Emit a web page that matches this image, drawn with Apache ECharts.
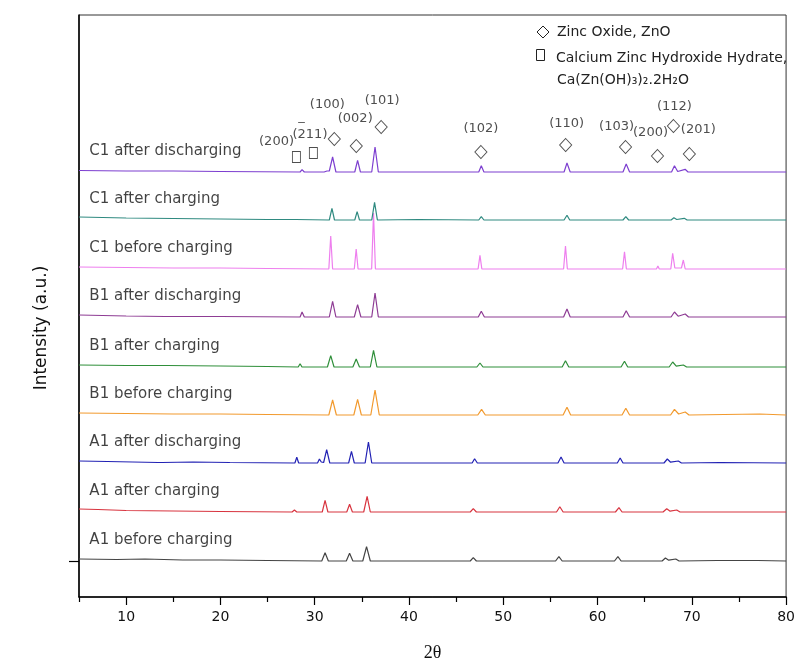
<!DOCTYPE html>
<html>
<head>
<meta charset="utf-8">
<script src="https://cdn.jsdelivr.net/npm/echarts@6/dist/echarts.min.js"></script>
<style>
  html, body { margin: 0; background: #fff; }
  #chart { width: 798px; height: 670px; }
</style>
</head>
<body>
<div id="chart"></div>
<script>
// trace names, bottom to top
const traceNames = [
  'A1 before charging', 'A1 after charging', 'A1 after discharging',
  'B1 before charging', 'B1 after charging', 'B1 after discharging',
  'C1 before charging', 'C1 after charging', 'C1 after discharging'
];
const traceColors = [
  '#444444', '#d8343f', '#2222b4',
  '#f29a2e', '#2f8f3a', '#8e3c94',
  '#ee7fee', '#2f8a80', '#7d3fd0'
];
// vertical stacking offset of each trace (a.u.)
const offsets = [0, 49, 98, 146, 194, 244, 292, 341, 389];

// [2theta, intensity above baseline]
const a1Before = [[5,2],[9,1.5],[12,2],[16,1],[20,1],[25,0.5],[30.75,0],[31.1,8.3],[31.45,0],[33.35,0],[33.7,7.7],[34.05,0],[35.1,0],[35.5,14.3],[35.9,0],[46.5,0],[46.82,3.3],[47.15,0],[55.55,0],[55.9,4.3],[56.25,0],[61.8,0],[62.16,4.3],[62.5,0],[66.85,0],[67.2,3],[67.55,0.8],[68.3,2],[68.65,0],[72.7,0.5],[77,0.5],[80,0]];
const a1Charge = [[5,3],[7,2.5],[10,1.5],[15,1],[20,0.5],[27.6,0],[27.85,2],[28.1,0],[30.1,0],[30.3,2],[30.5,0],[30.8,0],[31.1,11.7],[31.4,0],[33.4,0],[33.7,7.7],[34.0,0],[35.2,0],[35.56,15.7],[35.9,0],[46.5,0],[46.82,3.3],[47.15,0],[55.65,0],[56.0,5.3],[56.35,0],[61.9,0],[62.27,4.3],[62.6,0],[66.95,0],[67.34,3.3],[67.7,0.8],[68.4,2],[68.75,0],[80,0]];
const a1Discharge = [[5,2],[8,1.5],[13.4,0.5],[13.6,2],[13.8,0.5],[17.1,1],[21,0.5],[27.9,0],[28.1,5.7],[28.3,0],[30.3,0],[30.5,4],[30.7,1],[30.95,0.5],[31.27,13.3],[31.6,0],[33.6,0],[33.9,11.7],[34.2,0],[35.35,0],[35.7,21],[36.05,0],[46.7,0],[46.96,4.3],[47.25,0],[55.8,0],[56.13,6],[56.45,0],[62.1,0],[62.4,5],[62.7,0],[67.05,0],[67.4,4],[67.75,0.8],[68.57,2],[68.9,0],[73,0.5],[80,0]];
const b1Before = [[5,2],[10,1.5],[15,1],[20,1],[25,0.5],[31.5,0],[31.9,15],[32.3,0],[34.15,0],[34.55,15.7],[34.95,0],[35.95,0],[36.4,25],[36.85,0],[47.3,0],[47.7,5.7],[48.1,0],[56.35,0],[56.76,7.7],[57.15,0],[62.6,0],[63.0,6.7],[63.4,0],[67.75,0],[68.16,5.7],[68.6,1],[69.3,3],[69.7,0],[77.2,1],[80,0]];
const b1Charge = [[5,2],[10,1.5],[14.3,1.5],[20,1],[25,0.5],[28.25,0],[28.45,3.3],[28.65,0],[31.35,0],[31.7,11.3],[32.05,0],[34.05,0],[34.4,8],[34.75,0],[35.9,0],[36.24,16.7],[36.6,0],[47.2,0],[47.53,4],[47.85,0],[56.25,0],[56.6,6.3],[56.95,0],[62.5,0],[62.86,5.7],[63.2,0],[66.1,0],[66.3,1.5],[66.5,0],[67.6,0],[67.97,5],[68.35,0.8],[69.1,2],[69.45,0],[80,0]];
const b1Discharge = [[5,2],[10,1],[14.1,0.5],[14.3,1.5],[14.5,0.5],[20,0.5],[28.45,0],[28.66,5],[28.9,0],[31.55,0],[31.9,15.7],[32.25,0],[34.2,0],[34.55,12.3],[34.9,0],[36.05,0],[36.4,24],[36.75,0],[47.35,0],[47.67,5.7],[48.0,0],[56.4,0],[56.76,8],[57.1,0],[62.7,0],[63.04,6.3],[63.4,0],[66.3,0],[66.5,1.5],[66.7,0],[67.8,0],[68.16,5],[68.55,0.8],[69.3,3],[69.65,0],[80,0]];
const c1Before = [[5,2],[10,1.5],[15,1],[20,1],[25,0.5],[31.5,0],[31.7,33],[31.9,0],[34.2,0],[34.4,20],[34.6,0],[36.04,0],[36.24,56],[36.44,0],[47.33,0],[47.53,13.7],[47.73,0],[56.4,0],[56.6,23],[56.8,0],[62.66,0],[62.86,17.3],[63.06,0],[66.25,0],[66.4,3],[66.55,0],[67.77,0],[67.97,15.7],[68.2,1],[68.9,1],[69.1,9],[69.3,0],[80,0]];
const c1Charge = [[5,3],[10,2],[15,1.5],[20,1],[25,0.5],[28,0.5],[31.55,0],[31.83,11.7],[32.1,0],[34.25,0],[34.5,8.3],[34.75,0],[36.05,0],[36.35,17.7],[36.65,0],[41,0.5],[47.4,0],[47.67,3.3],[47.95,0],[56.45,0],[56.76,4.7],[57.05,0],[62.7,0],[63.0,3.3],[63.3,0],[66.35,0],[66.5,1],[66.65,0],[67.8,0],[68.1,2.3],[68.4,0.5],[69.2,1.7],[69.5,0],[80,0]];
const c1Discharge = [[5,1.5],[10,1],[15,1],[20,0.5],[28.45,0],[28.66,2.3],[28.9,0],[31.0,0],[31.3,1],[31.55,1],[31.9,15],[32.25,0],[34.25,0],[34.55,11.7],[34.85,0],[36.05,0],[36.4,25],[36.75,0],[47.4,0],[47.67,6.3],[47.95,0],[56.45,0],[56.76,9],[57.1,0],[62.7,0],[63.04,8],[63.4,0],[66.4,0],[66.57,1.3],[66.75,0],[67.85,0],[68.16,6.3],[68.5,0.5],[69.29,2.7],[69.6,0],[72.6,0],[72.8,1],[73,0],[77,0],[77.2,1],[77.4,0],[80,0]];

const traces = [a1Before, a1Charge, a1Discharge, b1Before, b1Charge, b1Discharge, c1Before, c1Charge, c1Discharge];

// phase markers [2theta, intensity]
const znoMarks = [[32.08,422],[34.41,415],[37.05,434],[47.63,409],[56.62,416],[62.97,414],[66.36,405],[68.05,435],[69.74,407]];
const czhMarks = [[28.06,404],[29.86,408]];
// Miller index labels [2theta, intensity, text]
const hklLabels = [
  [25.95,419,'(200)'], [29.5,426,'(211)'], [28.6,432,'\u203e'], [31.34,456,'(100)'], [34.30,442,'(002)'],
  [37.16,460,'(101)'], [47.63,432,'(102)'], [56.73,437,'(110)'], [62.02,434,'(103)'],
  [65.62,428,'(200)'], [68.16,454,'(112)'], [70.69,431,'(201)']
];
const majorTicks = [10, 20, 30, 40, 50, 60, 70, 80];
const minorTicks = [5, 15, 25, 35, 45, 55, 65, 75];

const FONT = 'DejaVu Sans';
const chart = echarts.init(document.getElementById('chart'));

const lineSeries = traces.map((pts, i) => ({
  name: traceNames[i],
  type: 'line',
  data: pts.map(p => [p[0], p[1] + offsets[i]]),
  showSymbol: false,
  smooth: false,
  lineStyle: { color: traceColors[i], width: 1.2 },
  z: 2
}));

const option = {
  animation: false,
  backgroundColor: '#fff',
  grid: { left: 79, right: 9, top: 15, bottom: 73, show: true, borderColor: '#333', borderWidth: 1 },
  xAxis: [
    {
      type: 'value', min: 5, max: 80, interval: 5,
      axisLine: { onZero: false, lineStyle: { color: '#000', width: 1.5 } },
      axisTick: { customValues: majorTicks, length: 8, lineStyle: { color: '#000', width: 1.2 } },
      axisLabel: { customValues: majorTicks, color: '#111', fontSize: 14, fontFamily: FONT, margin: 13 },
      splitLine: { show: false },
      name: '2\u03b8', nameLocation: 'middle', nameGap: 47,
      nameTextStyle: { fontFamily: 'Liberation Serif', fontSize: 18, color: '#111' }
    },
    {
      type: 'value', min: 5, max: 80, interval: 5, position: 'bottom',
      axisLine: { show: false, onZero: false },
      axisTick: { customValues: minorTicks, length: 5, lineStyle: { color: '#000', width: 1.2 } },
      axisLabel: { show: false },
      splitLine: { show: false }
    }
  ],
  yAxis: {
    type: 'value', min: -36, max: 546,
    axisLine: { onZero: false, lineStyle: { color: '#000', width: 1.5 } },
    axisTick: { customValues: [0], length: 10, lineStyle: { color: '#000', width: 1.2 } },
    axisLabel: { show: false },
    splitLine: { show: false }
  },
  series: lineSeries.concat([
    {
      type: 'scatter', data: znoMarks, symbol: 'diamond', symbolSize: [12, 13],
      itemStyle: { color: '#fff', borderColor: '#222', borderWidth: 1 }, z: 5
    },
    {
      type: 'scatter', data: czhMarks, symbol: 'rect', symbolSize: [8, 11],
      itemStyle: { color: '#fff', borderColor: '#222', borderWidth: 1 }, z: 5
    },
    {
      type: 'scatter', symbolSize: 0, z: 6,
      data: hklLabels.map(d => ({ value: [d[0], d[1]], name: d[2] })),
      label: { show: true, position: 'inside', formatter: '{b}', color: '#222', fontSize: 13, fontFamily: FONT }
    },
    {
      type: 'scatter', symbolSize: 0, z: 6,
      data: traceNames.map((n, i) => ({ value: [6.1, offsets[i] + 21], name: n })),
      label: { show: true, position: 'right', distance: 0, formatter: '{b}', color: '#111', fontSize: 15, fontFamily: FONT }
    }
  ]),
  graphic: [
    { type: 'text', x: 42, y: 328, rotation: Math.PI / 2, style: { text: 'Intensity (a.u.)', font: '17px "DejaVu Sans"', fill: '#111', align: 'center', verticalAlign: 'middle' } },
    { type: 'polygon', shape: { points: [[543, 26], [549, 32], [543, 38], [537, 32]] }, style: { fill: '#fff', stroke: '#222', lineWidth: 1 } },
    { type: 'text', x: 557, y: 32, style: { text: 'Zinc Oxide, ZnO', font: '14px "DejaVu Sans"', fill: '#222', verticalAlign: 'middle' } },
    { type: 'rect', shape: { x: 536.5, y: 49.5, width: 8, height: 11 }, style: { fill: '#fff', stroke: '#222', lineWidth: 1 } },
    { type: 'text', x: 556, y: 58, style: { text: 'Calcium Zinc Hydroxide Hydrate,', font: '14px "DejaVu Sans"', fill: '#222', verticalAlign: 'middle' } },
    { type: 'text', x: 557, y: 80, style: { text: 'Ca(Zn(OH)\u2083)\u2082.2H\u2082O', font: '14px "DejaVu Sans"', fill: '#222', verticalAlign: 'middle' } }
  ]
};

chart.setOption(option);
</script>
</body>
</html>
